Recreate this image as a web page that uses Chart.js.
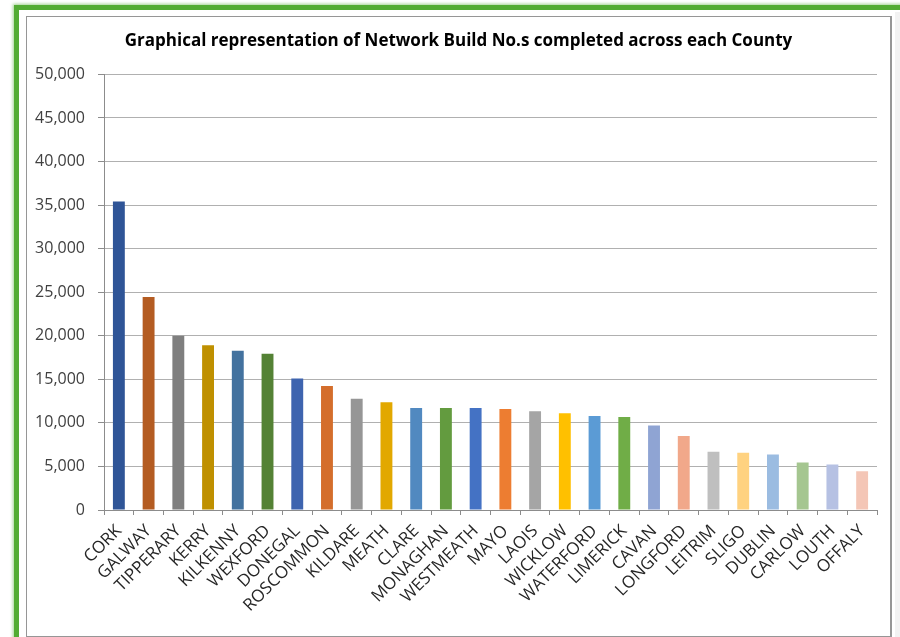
<!DOCTYPE html>
<html>
<head>
<meta charset="utf-8">
<script src="https://cdn.jsdelivr.net/npm/chart.js@4"></script>
<style>
  html, body { margin: 0; padding: 0; background: #ffffff; width: 900px; height: 637px; overflow: hidden; }
  #green { position: absolute; left: 14px; top: 5px; width: 900px; height: 700px;
           border-left: 5px solid #53AC33; border-top: 5px solid #53AC33;
           box-shadow: -1px -1px 3px rgba(83,172,51,0.55); }
  #gray { position: absolute; left: 895px; top: 12px; width: 5px; height: 630px; background: #F2F2F2; }
  #frame { position: absolute; left: 26px; top: 16px; width: 863px; height: 619px;
           border-left: 1px solid #969696; border-top: 1px solid #969696;
           border-right: 2px solid #969696; border-bottom: 1px solid #969696; background: #fff; }
  canvas { position: absolute; left: 0; top: 0; }
</style>
</head>
<body>
<div id="green"></div>
<div id="gray"></div>
<div id="frame"><canvas id="c" width="863" height="619"></canvas></div>
<script>
const categories = ["CORK","GALWAY","TIPPERARY","KERRY","KILKENNY","WEXFORD","DONEGAL","ROSCOMMON","KILDARE","MEATH","CLARE","MONAGHAN","WESTMEATH","MAYO","LAOIS","WICKLOW","WATERFORD","LIMERICK","CAVAN","LONGFORD","LEITRIM","SLIGO","DUBLIN","CARLOW","LOUTH","OFFALY"];
const values = [35400, 24450, 20000, 18920, 18270, 17930, 15100, 14220, 12780, 12360, 11700, 11700, 11700, 11580, 11330, 11100, 10800, 10680, 9700, 8480, 6680, 6560, 6370, 5460, 5230, 4460];
const barColors = ["#2F5597","#B45C22","#7F7F7F","#BF9000","#43729F","#548235","#3E64AF","#D46E2C","#969696","#E2A800","#5189C0","#639B3F","#4472C4","#ED7D31","#A5A5A5","#FFC000","#5B9BD5","#70AD47","#8FA4D3","#F1A88A","#BFBFBF","#FFD280","#9BBCE1","#A5C690","#B6C1E3","#F4C6B6"];
const yTicks = [0,5000,10000,15000,20000,25000,30000,35000,40000,45000,50000];
const titleText = "Graphical representation of Network Build No.s completed across each County";

const FONT = "'Open Sans', 'DejaVu Sans', sans-serif";
new Chart(document.getElementById('c'), {
  type: 'bar',
  data: {
    labels: categories,
    datasets: [{
      data: values,
      backgroundColor: barColors,
      borderWidth: 0,
      categoryPercentage: 0.8,
      barPercentage: 0.5
    }]
  },
  options: {
    responsive: false,
    animation: false,
    devicePixelRatio: 1,
    layout: { padding: { left: 0, right: 0, top: 0, bottom: 0 } },
    plugins: {
      legend: { display: false },
      tooltip: { enabled: false },
      title: {
        display: true,
        text: titleText,
        color: '#000000',
        font: { family: FONT, size: 17, weight: 'bold' },
        padding: { top: 14, bottom: 23 }
      }
    },
    scales: {
      y: {
        min: 0, max: 50000,
        afterBuildTicks: (s) => { s.ticks = yTicks.map(v => ({ value: v })); },
        afterFit: (s) => { s.width = 77; },
        ticks: {
          color: '#404040',
          font: { family: FONT, size: 16 },
          padding: 13,
          callback: (v) => Number(v).toLocaleString('en-US')
        },
        grid: { color: '#B0B0B0', tickLength: 6, tickColor: '#8C8C8C', lineWidth: 1 },
        border: { color: '#8C8C8C' }
      },
      yRight: {
        position: 'right',
        display: true,
        min: 0, max: 50000,
        afterFit: (s) => { s.width = 13; },
        ticks: { display: false },
        grid: { display: false },
        border: { display: false }
      },
      x: {
        offset: true,
        afterFit: (s) => { s.height = 126; },
        ticks: {
          color: '#262626',
          font: { family: FONT, size: 17 },
          maxRotation: 45, minRotation: 45,
          autoSkip: false,
          padding: 6
        },
        grid: { drawOnChartArea: false, tickLength: 5, color: '#8C8C8C', offset: true },
        border: { color: '#8C8C8C' }
      }
    }
  }
});
</script>
</body>
</html>
